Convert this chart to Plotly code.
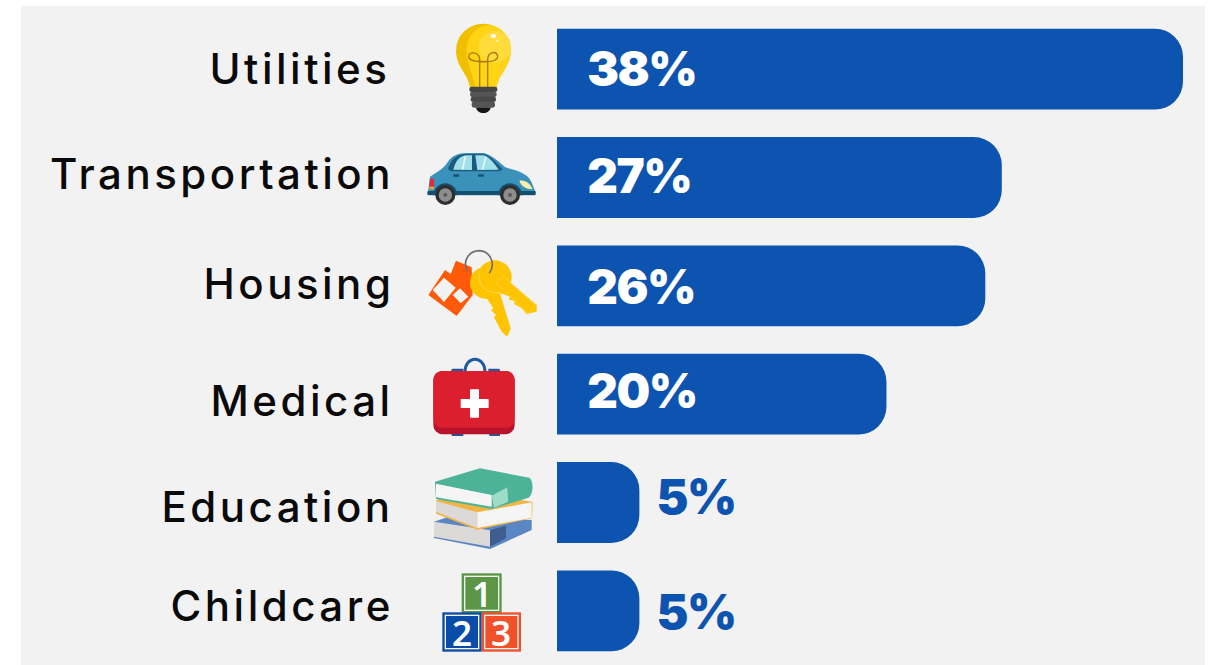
import base64
import plotly.graph_objects as go

W, H = 1212, 665

# ---- data ----
categories = ["Utilities", "Transportation", "Housing", "Medical", "Education", "Childcare"]
values = [38, 27, 26, 20, 5, 5]
value_labels = ["38%", "27%", "26%", "20%", "5%", "5%"]

# ---- per-label style nudges (pixels) ----
cat_right_px = [392, 396.5, 396.5, 396.5, 396.5, 396.5]
cat_yshift = [1, 4, 2, -6, -4, 5]
val_yshift = [1, 2, -1, 4, 6, -1]
val_size_inside = 47.5
val_size_outside = 48

BLUE = "#0D53B0"
PANEL = "#F2F2F2"


def px_x(p):
    return p / W


def px_y(p):
    return 1 - p / H


def icon(body, crop_x, crop_y, vx, vy, vw, vh):
    svg = (f'<svg xmlns="http://www.w3.org/2000/svg" width="{vw*2}" height="{vh*2}" '
           f'viewBox="{vx} {vy} {vw} {vh}">{body}</svg>')
    uri = "data:image/svg+xml;base64," + base64.b64encode(svg.encode()).decode()
    return dict(source=uri, xref="paper", yref="paper", layer="above", sizing="stretch",
                x=px_x(crop_x + vx / 3), y=px_y(crop_y + vy / 3),
                sizex=vw / 3 / W, sizey=vh / 3 / H, xanchor="left", yanchor="top")


bulb = """
<path d="M150 234 C148 195 108 172 108 122 A82 81 0 1 1 272 122 C272 172 232 195 230 234 Z" fill="#F0C000"/>
<path d="M165 234 C162 195 140 170 140 118 A66 74 0 0 1 272 122 C272 172 232 195 230 234 Z" fill="#FFD414"/>
<circle cx="225" cy="110" r="48" fill="#FFDC3C"/>
<ellipse cx="220" cy="78" rx="8" ry="6" fill="#fff"/><circle cx="232" cy="92" r="3" fill="#fff"/>
<path d="M179 232 V150 C179 125 145 122 146 140 C148 158 200 158 205 150 M203 232 V150 C203 122 234 122 233 140 C232 158 180 158 176 150" fill="none" stroke="#A87A10" stroke-width="4"/>
<path d="M168 292 H212 C210 315 170 315 168 292 Z" fill="#151515"/>
<rect x="148" y="230" width="84" height="16" rx="7" fill="#454545"/>
<rect x="150" y="245" width="80" height="16" rx="7" fill="#555"/>
<rect x="152" y="260" width="76" height="16" rx="7" fill="#484848"/>
<rect x="155" y="275" width="70" height="18" rx="7" fill="#555"/>
"""

car = """
<path d="M24 545 L30 500 C48 488 66 478 78 464 C92 440 108 430 140 429 L190 429 C212 432 240 458 256 472 C290 482 322 490 334 515 L346 545 L346 556 L24 556 Z" fill="#3A92BB"/>
<path d="M84 476 C94 450 106 433 140 432 L190 432 C212 436 232 460 248 478 L238 484 L92 484 Z" fill="#1D5B7E"/>
<path d="M100 479 C106 456 116 438 140 436 L156 436 L156 480 Z" fill="#A0E0EA"/>
<path d="M166 436 L190 436 C208 440 224 462 236 479 L172 480 Z" fill="#A0E0EA"/>
<path d="M128 478 L136 438 M188 478 L198 440" stroke="#E8F8FA" stroke-width="5"/>
<rect x="100" y="493" width="18" height="7" rx="3" fill="#1D4F6E"/><rect x="174" y="493" width="18" height="7" rx="3" fill="#1D4F6E"/>
<rect x="22" y="543" width="325" height="12" rx="3" fill="#15506E"/>
<path d="M30 506 H42 V530 H28 Z" fill="#E6283C"/><rect x="28" y="530" width="14" height="8" fill="#F0A040"/>
<path d="M298 512 C320 510 330 522 338 538 C318 536 304 530 298 512 Z" fill="#FFEFA8"/>
<path d="M40 556 A36 36 0 0 1 112 556 Z M234 556 A36 36 0 0 1 306 556 Z" fill="#15506E"/>
<circle cx="76" cy="555" r="30" fill="#2E2E2E"/><circle cx="76" cy="555" r="20" fill="#8E8E8E"/><circle cx="76" cy="555" r="6" fill="#5a5a5a"/>
<circle cx="270" cy="555" r="30" fill="#2E2E2E"/><circle cx="270" cy="555" r="20" fill="#8E8E8E"/><circle cx="270" cy="555" r="6" fill="#5a5a5a"/>
"""

keys = """
<path d="M25 165 L75 90 L92 102 L108 62 L155 82 L158 165 L110 228 Z" fill="#FF5A0A"/>
<path d="M38 150 L72 113 L107 143 L72 186 Z M98 165 L120 145 L145 170 L122 190 Z" fill="#F2F2F2"/>
<path d="M190 160 L240 160 L272 265 L262 290 L245 275 L238 262 L222 232 L228 225 L213 210 L220 205 Z" fill="#FFC400"/>
<path d="M240 160 L270 170 L266 178 L285 185 L282 192 L305 205 L320 222 L350 215 L350 195 L265 122 Z" fill="#FFC400"/>
<circle cx="198" cy="128" r="48" fill="#FFC400"/>
<circle cx="224" cy="112" r="51" fill="#FFC400"/>
<path d="M178 100 C174 130 190 160 240 158" fill="none" stroke="#FFE27A" stroke-width="2"/>
<path d="M228 130 L250 108 L345 195 L325 220 Z" fill="none" stroke="#FFD84F" stroke-width="2"/>
<path d="M142 92 C125 60 150 32 178 32 C212 34 228 72 208 100" fill="none" stroke="#707070" stroke-width="5"/>
"""

medical = """
<path d="M92 395 L96 386 H130 L130 395 Z M205 395 L205 386 H238 L242 395 Z" fill="#1E5AA0"/>
<path d="M95 582 H130 V588 H95 Z M208 582 H240 V588 H208 Z" fill="#1E5AA0"/>
<path d="M135 396 C135 345 195 345 195 396" fill="none" stroke="#1E5AA0" stroke-width="9"/>
<rect x="40" y="393" width="244" height="190" rx="28" fill="#B8132A"/>
<rect x="40" y="393" width="244" height="170" rx="26" fill="#DC1F2E"/>
<rect x="122" y="477" width="84" height="27" rx="2" fill="#fff"/>
<rect x="150" y="448" width="27" height="85" rx="2" fill="#fff"/>
"""

books = """
<path d="M42 200 L85 185 L335 195 L335 225 L210 282 L42 249 Z" fill="#5B86C4"/>
<path d="M42 200 L210 226 L210 275 L42 245 Z" fill="#DCDAD8"/>
<path d="M210 226 L258 212 L258 250 L210 275 Z" fill="#3E5E90"/>
<path d="M48 136 L120 110 L338 140 L336 190 L172 224 L48 176 Z" fill="#F2B544"/>
<path d="M48 138 L172 172 L172 219 L48 170 Z" fill="#DCDAD8"/>
<path d="M172 172 L335 142 L335 188 L172 219 Z" fill="#F5F5F5"/>
<path d="M45 80 L180 40 L328 68 C342 78 340 118 326 128 L215 162 L48 132 Z" fill="#4CB399"/>
<path d="M48 86 L215 120 L215 155 L48 127 Z" fill="#F5F5F5"/>
<path d="M215 122 L262 97 L264 140 L222 158 Z" fill="#9EDCC8"/>
"""


def block(x, y, s, c):
    return (f'<rect x="{x}" y="{y}" width="{s}" height="{s}" fill="{c}"/>'
            f'<rect x="{x+9}" y="{y+9}" width="{s-18}" height="{s-18}" fill="none" stroke="#F2F2F2" stroke-width="4"/>')


blocks = block(125, 355, 120, "#5B9646") + block(67, 472, 118, "#0A4CA8") + block(185, 472, 118, "#F0502A")

images = [
    icon(bulb, 420, 10, 100, 35, 180, 285),
    icon(car, 420, 10, 15, 420, 340, 170),
    icon(keys, 420, 240, 15, 20, 345, 275),
    icon(medical, 420, 240, 30, 345, 265, 250),
    icon(books, 420, 455, 35, 30, 310, 260),
    icon(blocks, 420, 455, 60, 350, 250, 250),
]

annotations = []
for c, r, s in zip(categories, cat_right_px, cat_yshift):
    annotations.append(dict(text=c, x=px_x(r), xref="paper", y=c, yref="y", yshift=s,
                            xanchor="right", align="right", showarrow=False,
                            font=dict(family="Inter, sans-serif", size=42, color="#0A0A0A", weight=500)))

for c, v, t, s in zip(categories, values, value_labels, val_yshift):
    inside = v > 10
    annotations.append(dict(text=t, x=0 if inside else v, xref="x", xshift=26 if inside else 14,
                            y=c, yref="y", yshift=s, xanchor="left", showarrow=False,
                            font=dict(family="Inter, sans-serif", weight=900,
                                      size=val_size_inside if inside else val_size_outside,
                                      color="#FFFFFF" if inside else BLUE)))

for d, px, py in [("1", 481.7, 593), ("2", 461.7, 632.3), ("3", 501.3, 632.3)]:
    annotations.append(dict(text=d, x=px_x(px), y=px_y(py), xref="paper", yref="paper",
                            xanchor="center", yanchor="middle", showarrow=False,
                            font=dict(family="Noto Sans, sans-serif", size=35, color="#FFFFFF", weight=600)))

fig = go.Figure(go.Bar(x=values, y=categories, orientation="h",
                       marker=dict(color=BLUE, cornerradius=28, line_width=0),
                       hoverinfo="skip", showlegend=False))

fig.update_layout(
    width=W, height=H, autosize=False,
    margin=dict(l=0, r=0, t=0, b=0, pad=0),
    paper_bgcolor="#FFFFFF", plot_bgcolor="rgba(0,0,0,0)",
    bargap=0.2535,
    shapes=[dict(type="rect", xref="paper", yref="paper", layer="below",
                 x0=px_x(21), x1=px_x(1205), y0=0, y1=px_y(6),
                 fillcolor=PANEL, line_width=0)],
    images=images,
    annotations=annotations,
)
fig.update_xaxes(domain=[557 / W, 1205 / W], range=[0, 648 / (626 / 38)], visible=False, fixedrange=True)
fig.update_yaxes(domain=[0, 650 / H], autorange="reversed", visible=False, fixedrange=True,
                 categoryorder="array", categoryarray=categories)

post = """
document.documentElement.style.overflow='hidden';
document.body.style.margin='0';
document.body.style.overflow='hidden';
var names = %s;
var vals = %s;
document.querySelectorAll('.annotation-text').forEach(function(t){
  if (names.indexOf(t.textContent) >= 0) { t.style.letterSpacing = '3.5px'; }
  else if (vals.indexOf(t.textContent) >= 0) { t.style.letterSpacing = '-1.5px'; }
});
""" % (str(categories), str(value_labels))

fig.write_html("out.html", post_script=post, config={"displayModeBar": False})
